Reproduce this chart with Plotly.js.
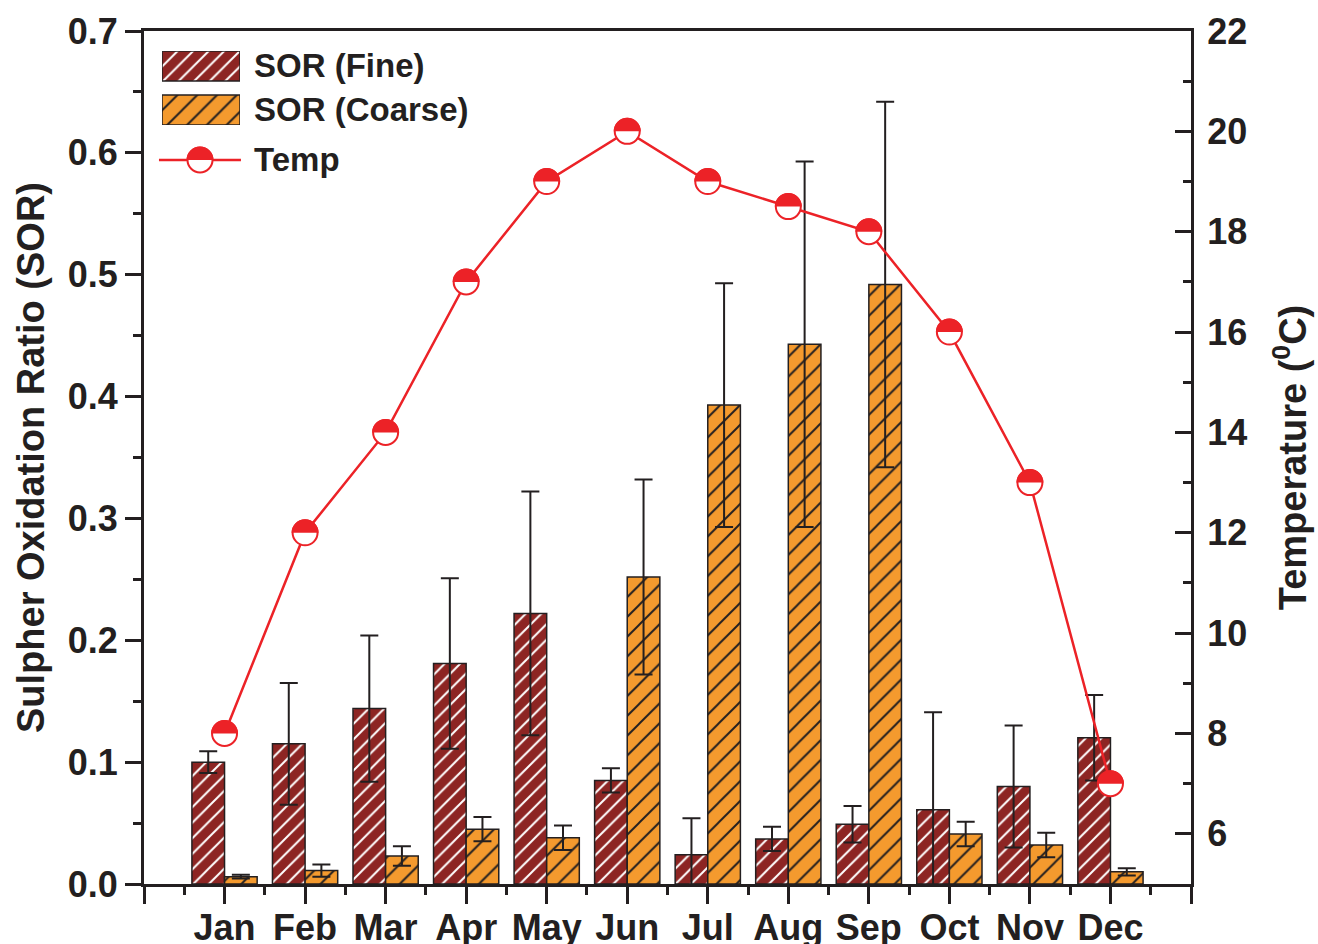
<!DOCTYPE html>
<html>
<head>
<meta charset="utf-8">
<script src="https://cdn.plot.ly/plotly-3.0.1.min.js"></script>
<style>
  html, body { margin: 0; padding: 0; background: #ffffff; }
  #chart { width: 1318px; height: 944px; }
</style>
</head>
<body>
<div id="chart"></div>
<script>
// Monthly sulphur oxidation ratio (fine / coarse particles) with mean temperature
const months = ['Jan', 'Feb', 'Mar', 'Apr', 'May', 'Jun', 'Jul', 'Aug', 'Sep', 'Oct', 'Nov', 'Dec'];
const sorFine      = [0.100, 0.115, 0.144, 0.181, 0.222, 0.085, 0.024, 0.037, 0.049, 0.061, 0.080, 0.120];
const sorFineErr   = [0.009, 0.050, 0.060, 0.070, 0.100, 0.010, 0.030, 0.010, 0.015, 0.080, 0.050, 0.035];
const sorCoarse    = [0.006, 0.011, 0.023, 0.045, 0.038, 0.252, 0.393, 0.443, 0.492, 0.041, 0.032, 0.010];
const sorCoarseErr = [0.0015, 0.005, 0.008, 0.010, 0.010, 0.080, 0.100, 0.150, 0.150, 0.010, 0.010, 0.003];
const temperature  = [8, 12, 14, 17, 19, 20, 19, 18.5, 18, 16, 13, 7];

const INK = '#231f20';
const RED = '#ec2227';
const FINE = '#8d2523';
const COARSE = '#f49a2e';
const FAMILY = '"Liberation Sans", Arial, Helvetica, sans-serif';
const font = (size) => ({ family: FAMILY, size: size, color: INK, weight: 'bold' });

const xPos = months.map((_, i) => i + 1);

const finePattern   = { shape: '/', bgcolor: FINE,   fgcolor: '#ffffff', size: 11, solidity: 0.18 };
const coarsePattern = { shape: '/', bgcolor: COARSE, fgcolor: INK,       size: 14, solidity: 0.14 };

const fineTrace = {
  type: 'bar', x: xPos, y: sorFine, name: 'SOR (Fine)', showlegend: false, hoverinfo: 'skip',
  marker: { color: FINE, line: { color: INK, width: 1.5 }, pattern: finePattern },
  error_y: { type: 'data', array: sorFineErr, visible: true, color: INK, thickness: 2, width: 9 }
};
const coarseTrace = {
  type: 'bar', x: xPos, y: sorCoarse, name: 'SOR (Coarse)', showlegend: false, hoverinfo: 'skip',
  marker: { color: COARSE, line: { color: INK, width: 1.5 }, pattern: coarsePattern },
  error_y: { type: 'data', array: sorCoarseErr, visible: true, color: INK, thickness: 2, width: 9 }
};
const tempTrace = {
  type: 'scatter', mode: 'lines+markers', x: xPos, y: temperature, yaxis: 'y2', name: 'Temp',
  showlegend: false, hoverinfo: 'skip',
  line: { color: RED, width: 2.5 },
  marker: { size: 25, color: '#ffffff', line: { color: RED, width: 2 } }
};

// Key swatches drawn as bars in a small subplot so they carry the same hatching
const keyFine = {
  type: 'bar', orientation: 'h', x: [1], y: [1], xaxis: 'x3', yaxis: 'y3',
  width: 0.68, offset: -0.34, showlegend: false, hoverinfo: 'skip',
  marker: { color: FINE, line: { color: INK, width: 1.5 }, pattern: finePattern }
};
const keyCoarse = {
  type: 'bar', orientation: 'h', x: [1], y: [0], xaxis: 'x3', yaxis: 'y3',
  width: 0.68, offset: -0.34, showlegend: false, hoverinfo: 'skip',
  marker: { color: COARSE, line: { color: INK, width: 1.5 }, pattern: coarsePattern }
};

// Upper half of a disc as two cubic quarter arcs, in pixel offsets around an anchor point
const R = 13.5;
const K = +(R * 0.5523).toFixed(2);
const halfDisc = `M${-R},0 C${-R},${K} ${-K},${R} 0,${R} C${K},${R} ${R},${K} ${R},0 Z`;

const shapes = temperature.map((t, i) => ({
  type: 'path', xref: 'x', yref: 'y2', xsizemode: 'pixel', ysizemode: 'pixel',
  xanchor: xPos[i], yanchor: t, path: halfDisc, fillcolor: RED, line: { width: 0 }
}));

// Temp key: line, open disc, filled upper half
const keyY = 0.8488;
const keyX = 0.0535;
shapes.push({ type: 'line', xref: 'paper', yref: 'paper', x0: 0.0143, x1: 0.0926, y0: keyY, y1: keyY,
  line: { color: RED, width: 2.5 } });
shapes.push({ type: 'circle', xref: 'paper', yref: 'paper', xsizemode: 'pixel', ysizemode: 'pixel',
  xanchor: keyX, yanchor: keyY, x0: -12.5, x1: 12.5, y0: -12.5, y1: 12.5,
  fillcolor: '#ffffff', line: { color: RED, width: 2 } });
shapes.push({ type: 'path', xref: 'paper', yref: 'paper', xsizemode: 'pixel', ysizemode: 'pixel',
  xanchor: keyX, yanchor: keyY, path: halfDisc, fillcolor: RED, line: { width: 0 } });

const keyLabels = [
  { text: 'SOR (Fine)', y: 0.959 },
  { text: 'SOR (Coarse)', y: 0.9074 },
  { text: 'Temp', y: keyY }
];
const annotations = keyLabels.map(k => ({
  xref: 'paper', yref: 'paper', x: 0.1032, y: k.y, xanchor: 'left', yanchor: 'middle',
  text: k.text, showarrow: false, font: font(33)
}));

const tickVals = [0].concat(xPos, [months.length + 1]);
const tickText = [''].concat(months, ['']);
const minorVals = tickVals.slice(0, -1).map(v => v + 0.5);

const layout = {
  width: 1318, height: 944,
  margin: { l: 144, r: 127, t: 31, b: 60 },
  paper_bgcolor: '#ffffff', plot_bgcolor: 'rgba(0,0,0,0)',
  barmode: 'group', bargap: 0.19, bargroupgap: 0,
  showlegend: false,
  xaxis: {
    range: [0, months.length + 1], tickmode: 'array', tickvals: tickVals, ticktext: tickText,
    ticks: 'outside', ticklen: 17, tickwidth: 3, tickcolor: INK,
    minor: { tickmode: 'array', tickvals: minorVals, ticks: 'outside', ticklen: 8, tickwidth: 3, tickcolor: INK },
    showline: true, linecolor: INK, linewidth: 3, mirror: true,
    showgrid: false, zeroline: false, automargin: false,
    ticklabelstandoff: -7,
    tickfont: font(36)
  },
  yaxis: {
    range: [0, 0.7], tick0: 0, dtick: 0.1, tickformat: '.1f',
    ticks: 'outside', ticklen: 16, tickwidth: 3, tickcolor: INK,
    minor: { dtick: 0.05, ticks: 'outside', ticklen: 8, tickwidth: 3, tickcolor: INK },
    showline: true, linecolor: INK, linewidth: 3,
    showgrid: false, zeroline: false, automargin: false,
    tickfont: font(36),
    title: { text: 'Sulpher Oxidation Ratio (SOR)', font: font(38), standoff: 12 }
  },
  yaxis2: {
    overlaying: 'y', side: 'right', range: [5, 22], tick0: 6, dtick: 2,
    ticks: 'inside', ticklen: 16, tickwidth: 3, tickcolor: INK,
    minor: { dtick: 1, ticks: 'inside', ticklen: 8, tickwidth: 3, tickcolor: INK },
    showline: true, linecolor: INK, linewidth: 3,
    showgrid: false, zeroline: false, automargin: false,
    ticklabelstandoff: 6,
    tickfont: font(36),
    title: { text: 'Temperature (<sup>0</sup>C)', font: font(38), standoff: 34 }
  },
  xaxis3: { domain: [0.0172, 0.0917], anchor: 'y3', range: [0, 1], visible: false, fixedrange: true },
  yaxis3: { domain: [0.8898, 0.9765], anchor: 'x3', range: [-0.34, 1.34], visible: false, fixedrange: true },
  shapes: shapes,
  annotations: annotations
};

Plotly.newPlot('chart', [fineTrace, coarseTrace, tempTrace, keyFine, keyCoarse], layout,
  { staticPlot: true, displayModeBar: false });
</script>
</body>
</html>
